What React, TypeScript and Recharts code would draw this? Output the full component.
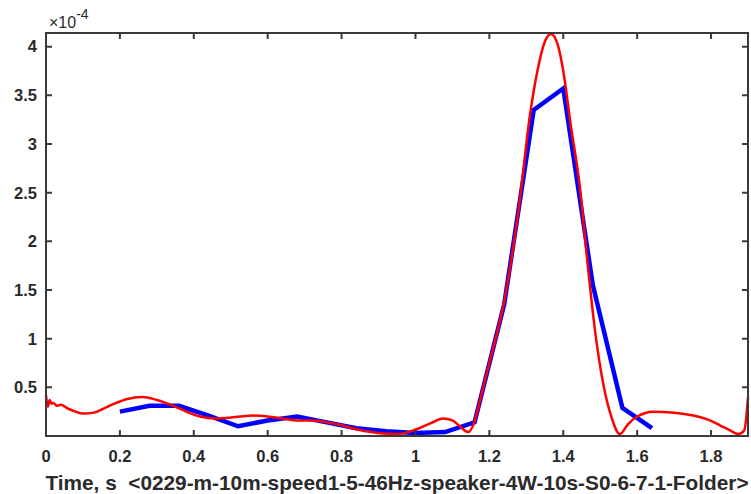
import { LineChart, Line, XAxis, YAxis } from 'recharts';

// values are in units of 1e-4
const blueT = [0.2, 0.28, 0.36, 0.44, 0.52, 0.6, 0.68, 0.76, 0.84, 0.92, 1.0, 1.08, 1.16, 1.24, 1.32, 1.4, 1.48, 1.56, 1.64];
const blueV = [0.25, 0.31, 0.31, 0.21, 0.1, 0.16, 0.2, 0.14, 0.08, 0.05, 0.03, 0.04, 0.14, 1.35, 3.35, 3.57, 1.55, 0.29, 0.08];

const redT = [
  0, 0.005, 0.01, 0.015, 0.02, 0.03, 0.04, 0.06, 0.08, 0.1, 0.13, 0.16, 0.19, 0.22, 0.26, 0.3, 0.345, 0.38,
  0.417, 0.46, 0.5, 0.525, 0.56, 0.6, 0.64, 0.68, 0.72, 0.76, 0.8, 0.84, 0.88, 0.913, 0.95, 0.98, 1.01, 1.04,
  1.075, 1.1, 1.12, 1.143, 1.16, 1.175, 1.2, 1.24, 1.28, 1.31, 1.33, 1.35, 1.367, 1.385, 1.4, 1.42, 1.445,
  1.465, 1.486, 1.51, 1.53, 1.553, 1.575, 1.6, 1.644, 1.7, 1.752, 1.79, 1.824, 1.85, 1.874, 1.89, 1.9,
];
const redV = [
  0.42, 0.3, 0.37, 0.33, 0.34, 0.31, 0.32, 0.28, 0.25, 0.23, 0.24, 0.29, 0.34, 0.38, 0.4, 0.37, 0.31, 0.25,
  0.2, 0.18, 0.19, 0.2, 0.21, 0.2, 0.18, 0.16, 0.16, 0.14, 0.11, 0.07, 0.04, 0.025, 0.02, 0.04, 0.08, 0.13,
  0.18, 0.16, 0.1, 0.04, 0.15, 0.37, 0.75, 1.38, 2.35, 3.3, 3.75, 4.05, 4.13, 4.02, 3.75, 3.2, 2.56,
  1.8, 1.08, 0.5, 0.2, 0.02, 0.12, 0.2, 0.25, 0.24, 0.21, 0.17, 0.11, 0.06, 0.02, 0.06, 0.4,
];

const xTicks = [0, 0.2, 0.4, 0.6, 0.8, 1, 1.2, 1.4, 1.6, 1.8];
const yTicks = [0.5, 1, 1.5, 2, 2.5, 3, 3.5, 4];
const xLabel = 'Time, s\u00a0\u00a0<0229-m-10m-speed1-5-46Hz-speaker-4W-10s-S0-6-7-1-Folder>';

const blueData = blueT.map((t, i) => ({ t, v: blueV[i] }));
const redData = redT.map((t, i) => ({ t, v: redV[i] }));

const W = 751;
const H = 494;
const X_MAX = 1.9;
const Y_MAX = 4.14;
// plot box (MATLAB-style frame)
const L = 46, R = 748, T = 33, B = 436;

const AXIS = '#3a3a3a';
const TXT = '#2a2a2a';
const FONT = '"Liberation Sans", Arial, sans-serif';
const TICK = 6;

const BottomTick = (p: any) => (
  <text x={p.x} y={p.y} dy="0.71em" textAnchor="middle" fill={TXT} fontSize={16.5} fontWeight="bold" fontFamily={FONT}>
    {p.payload.value}
  </text>
);

const LeftTick = (p: any) => (
  <text x={p.x} y={p.y} dy="0.355em" textAnchor="end" fill={TXT} fontSize={16.5} fontWeight="bold" fontFamily={FONT}>
    {p.payload.value}
  </text>
);

// box + inward ticks on all four sides, drawn over the chart
function Frame() {
  const sx = (v: number) => L + (v / X_MAX) * (R - L);
  const sy = (v: number) => B - (v / Y_MAX) * (B - T);
  return (
    <svg width={W} height={H} style={{ position: 'absolute', left: 0, top: 0, pointerEvents: 'none', zIndex: 5 }}>
      <rect x={L} y={T} width={R - L} height={B - T} fill="none" stroke={AXIS} strokeWidth={2} />
      {xTicks.map((v) => (
        <path key={'x' + v} d={`M${sx(v)},${B}V${B - TICK}M${sx(v)},${T}V${T + TICK}`} stroke={AXIS} strokeWidth={2} fill="none" />
      ))}
      {yTicks.map((v) => (
        <path key={'y' + v} d={`M${L},${sy(v)}H${L + TICK}M${R},${sy(v)}H${R - TICK}`} stroke={AXIS} strokeWidth={2} fill="none" />
      ))}
      <text x={49} y={28} fill={TXT} fontSize={16} fontFamily={FONT}>
        ×10
        <tspan dy={-9} fontSize={14}>-4</tspan>
      </text>
    </svg>
  );
}

export default function App() {
  return (
    <div style={{ position: 'absolute', left: 0, top: 0, width: W, height: H, background: '#fff' }}>
      <LineChart width={W} height={H} margin={{ top: T - 1, right: W - R - 1, bottom: 0, left: 0 }}>
        <XAxis
          xAxisId="b"
          dataKey="t"
          type="number"
          domain={[0, X_MAX]}
          ticks={xTicks}
          height={H - B}
          tickSize={0}
          tickMargin={14}
          tick={<BottomTick />}
          axisLine={false}
          label={{ value: xLabel, position: 'insideBottom', offset: 4, fill: TXT, fontSize: 20.8, fontWeight: 'bold', fontFamily: FONT }}
        />
        <XAxis xAxisId="top" orientation="top" dataKey="t" type="number" domain={[0, X_MAX]} height={1} tick={false} tickLine={false} axisLine={false} />
        <YAxis
          yAxisId="l"
          type="number"
          domain={[0, Y_MAX]}
          ticks={yTicks}
          width={L}
          tickSize={0}
          tickMargin={9}
          tick={<LeftTick />}
          axisLine={false}
        />
        <YAxis yAxisId="r" orientation="right" type="number" domain={[0, Y_MAX]} width={1} tick={false} tickLine={false} axisLine={false} />
        <Line
          xAxisId="b"
          yAxisId="l"
          data={blueData}
          dataKey="v"
          type="linear"
          stroke="#0000ff"
          strokeWidth={4.5}
          dot={false}
          isAnimationActive={false}
        />
        <Line
          xAxisId="top"
          yAxisId="r"
          data={redData}
          dataKey="v"
          type="monotone"
          stroke="#ff0000"
          strokeWidth={2.5}
          dot={false}
          isAnimationActive={false}
        />
      </LineChart>
      <Frame />
    </div>
  );
}
